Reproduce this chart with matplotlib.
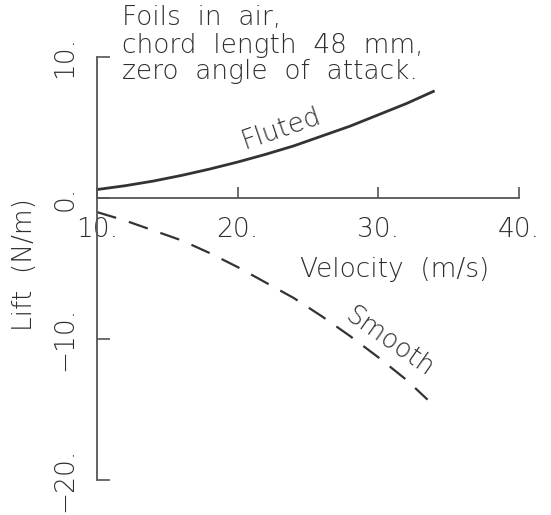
import matplotlib
matplotlib.use("Agg")
import matplotlib.pyplot as plt

# Data
velocity_fluted = [10, 12, 14, 16, 18, 20, 22, 24, 26, 28, 30, 32, 34]
lift_fluted = [0.6, 0.87, 1.2, 1.6, 2.05, 2.55, 3.1, 3.7, 4.4, 5.1, 5.9, 6.7, 7.6]

velocity_smooth = [10, 12, 14, 16, 18, 20, 22, 24, 26, 28, 30, 32, 33.5]
lift_smooth = [-1.0, -1.6, -2.3, -3.0, -3.9, -4.9, -6.0, -7.1, -8.4, -9.8, -11.3, -12.9, -14.3]

x_ticks = [10, 20, 30, 40]
x_ticklabels = ["10.", "20.", "30.", "40."]
y_ticks = [-20, -10, 0, 10]
y_ticklabels = ["\u221220.", "\u221210.", "0.", "10."]

note_lines = ["Foils  in  air,", "chord  length  48  mm,", "zero  angle  of  attack."]

TXT = "#2e2e2e"
LN = "#333333"
FS = 19
W = "light"
plt.rcParams["font.weight"] = W
plt.rcParams["axes.labelweight"] = W

fig = plt.figure(figsize=(5.51, 5.15), dpi=100)
ax = fig.add_axes([97/551, 1-480/515, (519-97)/551, (480-57)/515])

ax.plot(velocity_fluted, lift_fluted, color=LN, lw=2.0, solid_capstyle="butt")
ax.plot(velocity_smooth, lift_smooth, color=LN, lw=1.6, dashes=(9, 6))

ax.set_xlim(10, 40)
ax.set_ylim(-20, 10)

for s in ["top", "right"]:
    ax.spines[s].set_visible(False)
ax.spines["bottom"].set_position(("data", 0))
for s in ["left", "bottom"]:
    ax.spines[s].set_color("#555555")
    ax.spines[s].set_linewidth(1.3)

ax.set_xticks(x_ticks)
ax.set_xticklabels(x_ticklabels)
ax.set_yticks(y_ticks)
ax.set_yticklabels(y_ticklabels, rotation=90, va="center")

ax.tick_params(axis="x", direction="in", length=8, width=1.2, color="#555555",
               pad=14, labelsize=FS, labelcolor=TXT)
ax.tick_params(axis="y", direction="in", length=9, width=1.2, color="#555555",
               pad=14, labelsize=FS, labelcolor=TXT)

ax.set_xlabel("Velocity  (m/s)", fontsize=FS, color=TXT, va="center", fontweight=W)
ax.xaxis.set_label_coords((395-97)/422, (480-270)/423)
ax.set_ylabel("Lift  (N/m)", fontsize=FS, color=TXT, va="center", fontweight=W)
ax.yaxis.set_label_coords((25-97)/422, (480-265)/423)

for i, line in enumerate(note_lines):
    fig.text(122/551, 1-(18+27*i)/515, line, fontsize=FS, color=TXT,
             ha="left", va="center", fontweight=W)

ax.text(23.1, 4.9, "Fluted", fontsize=FS, color=TXT, rotation=19,
        ha="center", va="center", rotation_mode="anchor", fontweight=W)
ax.text(30.8, -10.2, "Smooth", fontsize=FS, color=TXT, rotation=-35,
        ha="center", va="center", rotation_mode="anchor", fontweight=W)

fig.savefig("out.png", dpi=100)
